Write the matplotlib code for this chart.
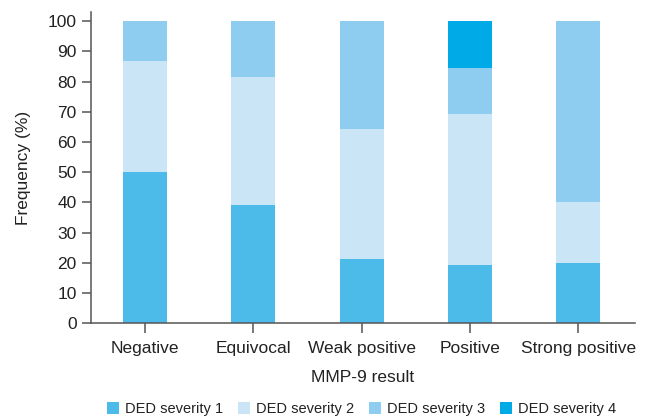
import matplotlib
matplotlib.use("Agg")
import matplotlib.pyplot as plt
import numpy as np
from matplotlib.patches import Patch

categories = ["Negative", "Equivocal", "Weak positive", "Positive", "Strong positive"]
sev1 = [50.0, 39.1, 21.4, 19.2, 20.0]
sev2 = [36.7, 42.4, 42.9, 50.0, 20.0]
sev3 = [13.3, 18.5, 35.7, 15.4, 60.0]
sev4 = [0.0, 0.0, 0.0, 15.4, 0.0]
series_names = ["DED severity 1", "DED severity 2", "DED severity 3", "DED severity 4"]
colors = ["#4DBBEA", "#C9E5F6", "#8FCDF0", "#00AAE6"]

plt.rcParams['font.family'] = ['Liberation Sans', 'DejaVu Sans']

fig = plt.figure(figsize=(6.49, 4.18), dpi=100)
ax = fig.add_axes([0.1398, 0.2266, 0.8382, 0.7444])

x = np.arange(len(categories))
bottom = np.zeros(len(categories))
for vals, c in zip([sev1, sev2, sev3, sev4], colors):
    ax.bar(x, vals, width=0.405, bottom=bottom, color=c, linewidth=0)
    bottom += np.array(vals)

ax.set_xlim(-0.5, 4.52)
ax.set_ylim(0, 103)
ax.set_yticks(range(0, 101, 10))
ax.set_xticks(x)
ax.set_xticklabels(categories, fontsize=12.5, color="#222222")
ax.tick_params(axis='y', labelsize=12.5, colors="#222222", length=6.5, width=1.1, color="#555555", pad=3.5)
ax.tick_params(axis='x', length=7, width=1.1, color="#555555", pad=6)
for s in ["top", "right"]:
    ax.spines[s].set_visible(False)
for s in ["left", "bottom"]:
    ax.spines[s].set_color("#555555")
    ax.spines[s].set_linewidth(1.1)
ax.set_ylabel("Frequency (%)", fontsize=12.5, color="#222222", labelpad=12)
ax.set_xlabel("MMP-9 result", fontsize=12.5, color="#222222", labelpad=10)

handles = [Patch(facecolor=c, edgecolor='none') for c in colors]
fig.legend(handles, series_names, loc="center", bbox_to_anchor=(0.557, 0.021), ncol=4,
           frameon=False, fontsize=10.5, handlelength=0.85, handleheight=0.85,
           handletextpad=0.4, columnspacing=1.0, labelcolor="#222222")

fig.savefig("out.png", dpi=100)
